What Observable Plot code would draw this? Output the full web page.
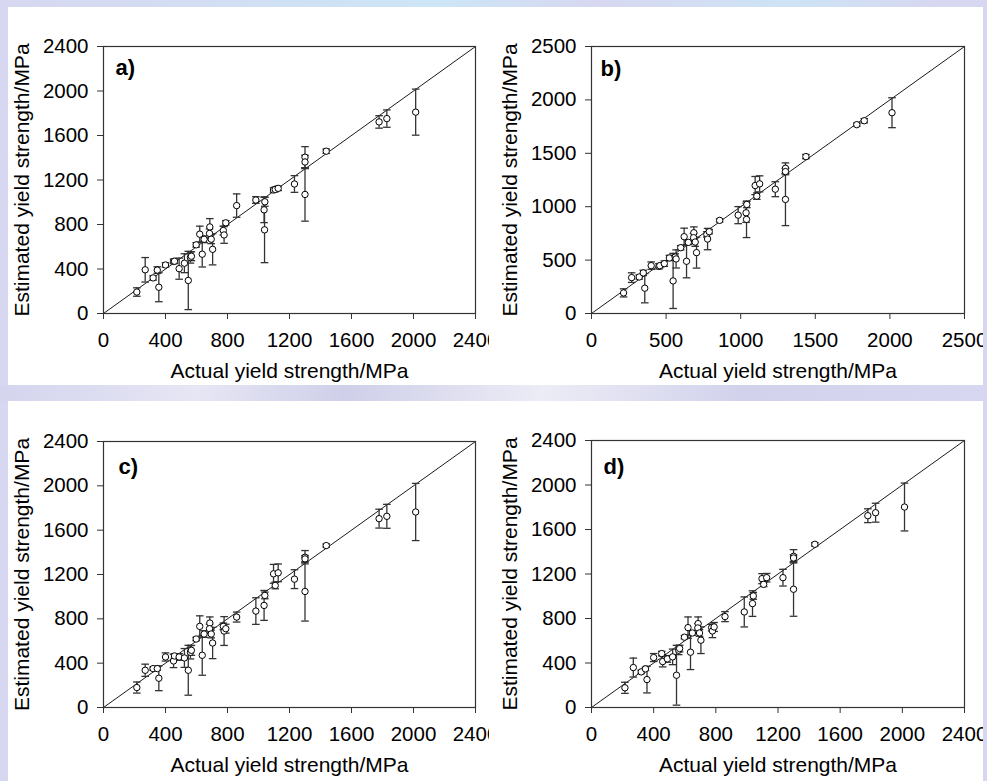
<!DOCTYPE html>
<html><head><meta charset="utf-8">
<script src="https://cdn.jsdelivr.net/npm/d3@7"></script>
<script src="https://cdn.jsdelivr.net/npm/@observablehq/plot@0.6"></script>
<style>
html,body{margin:0;padding:0;}
body{width:987px;height:781px;position:relative;overflow:hidden;
  background:
    linear-gradient(90deg, rgba(200,236,248,0.0) 0%, rgba(200,236,248,0.7) 45%, rgba(215,215,245,0) 60%, rgba(200,236,248,0.6) 80%, rgba(215,215,245,0) 95%),
    #d7d7f1;
  font-family:"Liberation Sans",Arial,sans-serif;}
.bg{position:absolute;background:#fff;}
.gap{position:absolute;left:0;top:385px;width:987px;height:16px;
  background:linear-gradient(100deg,#d4d4ee 0%,#e6e6f4 20%,#cfcfe9 35%,#ececf6 55%,#d2d2ec 75%,#d7d7f1 100%);}
.panel{position:absolute;}
.panel svg{overflow:hidden;background:transparent !important;}
</style></head><body>
<div class="bg" style="left:8px;top:7px;width:975px;height:378px"></div>
<div class="gap"></div>
<div class="bg" style="left:8px;top:401px;width:975px;height:380px"></div>
<div id="pa" class="panel" style="left:0px;top:0px"></div>
<div id="pb" class="panel" style="left:489px;top:0px"></div>
<div id="pc" class="panel" style="left:0px;top:390px"></div>
<div id="pd" class="panel" style="left:489px;top:390px"></div>
<script>
// Actual yield strength (MPa), shared by all four panels
const actual = [215,269,320,347,357,400,452,458,488,522,547,561,567,598,621,637,649,686,684,695,704,773,778,789,859,983,1036,1041,1039,1097,1108,1127,1232,1300,1300,1300,1437,1778,1828,2014];

// Panel a) estimates and error half-widths
const estA = [193,393,320,390,236,436,468,470,403,452,297,503,515,617,713,533,667,778,720,668,577,746,706,815,970,1020,932,1004,752,1110,1115,1125,1164,1405,1362,1070,1459,1722,1752,1810];
const errA = [38,110,20,30,130,20,20,20,95,85,262,50,40,20,72,115,30,75,40,40,140,40,75,20,105,30,115,40,295,20,20,20,75,95,60,240,20,56,78,207];

// Panel b)
const estB = [193,336,342,380,237,448,442,448,467,520,305,529,511,616,719,489,666,756,710,669,570,741,697,766,872,921,943,1021,881,1198,1099,1214,1164,1360,1329,1068,1469,1768,1805,1880];
const errB = [38,45,20,25,137,35,25,20,25,25,258,30,85,20,80,155,20,55,40,40,145,25,100,20,15,80,90,30,170,85,30,75,70,50,30,245,20,15,20,140];

// Panel c)
const estC = [180,336,351,351,264,456,420,465,456,447,336,498,516,618,732,471,663,762,711,663,582,732,690,711,816,870,921,1011,null,1206,1101,1215,1158,1356,1341,1047,1461,1704,1725,1764];
const errC = [50,55,15,15,112,37,60,20,30,85,225,60,45,15,95,180,30,55,40,35,141,30,130,40,45,120,135,30,null,85,30,80,85,60,30,267,15,85,108,258];

// Panel d)
const estD = [177,359,320,347,251,449,485,413,437,455,290,515,530,632,718,497,670,754,715,670,605,718,688,724,817,859,934,1003,null,1158,1107,1167,1167,1359,1344,1063,1467,1724,1751,1802];
const errD = [50,85,15,15,120,36,20,48,30,70,269,40,30,15,96,156,20,60,40,30,120,30,60,40,45,135,115,30,null,45,20,38,75,60,30,243,15,62,85,215];

const panelLabels = ["a)","b)","c)","d)"];
const axisMax = [2400, 2500, 2400, 2400];
const tickStep = [400, 500, 400, 400];
const xLabel = "Actual yield strength/MPa";
const yLabel = "Estimated yield strength/MPa";

// error bar cap: a short horizontal stroke centred on the point
const capSymbol = {draw(ctx, size){ const w = Math.sqrt(size/Math.PI); ctx.moveTo(-w,0); ctx.lineTo(w,0); }};

const layouts = [
  {id:"pa", width:489, height:390, mL:103, mR:14, mT:46, mB:77, lab:{dx:12, dy:21}},
  {id:"pb", width:494, height:390, mL:102, mR:19, mT:46, mB:77, lab:{dx:9, dy:22}},
  {id:"pc", width:489, height:391, mL:103, mR:14, mT:51, mB:74, lab:{dx:15, dy:25}},
  {id:"pd", width:494, height:391, mL:102, mR:19, mT:50, mB:74, lab:{dx:12, dy:26}}
];
const ests = [estA, estB, estC, estD];
const errs = [errA, errB, errC, errD];
const TICK_FONT = 20.5;
const FONT = "'Liberation Sans', Arial, sans-serif";
const hasAxisMarks = typeof Plot.axisX === "function";
const blank = () => "";

layouts.forEach((L, k) => {
  const max = axisMax[k];
  const data = actual.map((a, i) => ({x: a, y: ests[k][i], e: errs[k][i]})).filter(d => d.y != null);
  const diag = [0, max];
  const ticks = d3.range(0, max + 1, tickStep[k]);
  const fmt = d => String(d);
  const axes = hasAxisMarks ? [
    Plot.axisX({ticks, tickFormat: blank, tickSize: 6, label: null, stroke: "#333"}),
    Plot.axisY({ticks, tickFormat: blank, tickSize: 6, label: null, stroke: "#333"})
  ] : [];
  const chart = Plot.plot({
    width: L.width, height: L.height,
    marginLeft: L.mL, marginRight: L.mR, marginTop: L.mT, marginBottom: L.mB,
    style: {fontFamily: FONT, fontSize: "20px", color: "#000", background: "transparent", overflow: "hidden"},
    x: {domain: [0, max], ticks, tickFormat: blank, tickSize: 6, label: null},
    y: {domain: [0, max], ticks, tickFormat: blank, tickSize: 6, label: null},
    marks: [
      ...axes,
      // tick labels
      Plot.text(ticks, {x: d => d, text: fmt, frameAnchor: "bottom", textAnchor: "middle", lineAnchor: "top", dy: 19, fontSize: TICK_FONT, fontFamily: FONT}),
      Plot.text(ticks, {y: d => d, text: fmt, frameAnchor: "left", textAnchor: "end", lineAnchor: "middle", dx: -15, fontSize: TICK_FONT, fontFamily: FONT}),
      Plot.line(diag, {x: d => d, y: d => d, stroke: "#000", strokeWidth: 0.9}),
      Plot.ruleX(data, {x: "x", y1: d => d.y - d.e, y2: d => d.y + d.e, stroke: "#333", strokeWidth: 1.3}),
      Plot.dot(data, {x: "x", y: d => d.y + d.e, symbol: capSymbol, r: 3.8, stroke: "#333", fill: "none", strokeWidth: 1.3}),
      Plot.dot(data, {x: "x", y: d => d.y - d.e, symbol: capSymbol, r: 3.8, stroke: "#333", fill: "none", strokeWidth: 1.3}),
      Plot.dot(data, {x: "x", y: "y", r: 3.2, fill: "white", stroke: "#000", strokeWidth: 1}),
      Plot.frame({stroke: "#333", strokeWidth: 1.2}),
      Plot.text([panelLabels[k]], {text: d => d, frameAnchor: "top-left", textAnchor: "start", lineAnchor: "middle", dx: L.lab.dx, dy: L.lab.dy, fontSize: 22, fontWeight: "bold", fontFamily: FONT}),
      Plot.text([xLabel], {text: d => d, frameAnchor: "bottom", textAnchor: "middle", lineAnchor: "middle", dy: 58, fontSize: 21, fontFamily: FONT}),
      Plot.text([yLabel], {text: d => d, frameAnchor: "left", textAnchor: "middle", lineAnchor: "middle", dx: -81, rotate: -90, fontSize: 21, fontFamily: FONT})
    ]
  });
  document.getElementById(L.id).appendChild(chart);
});
</script>
</body></html>
